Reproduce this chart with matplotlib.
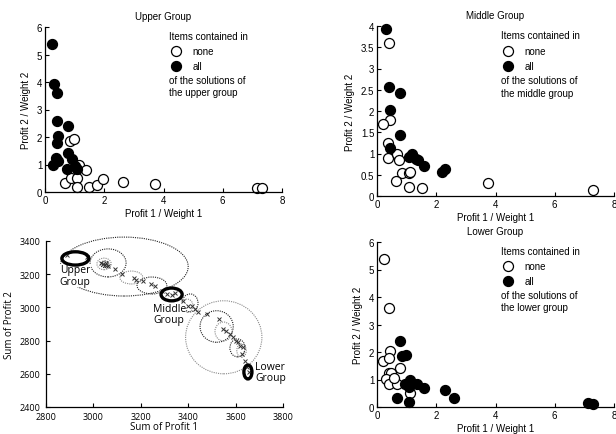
import matplotlib
matplotlib.use("Agg")
import matplotlib.pyplot as plt
from matplotlib.patches import Ellipse

plt.rcParams['font.family'] = ['Liberation Sans', 'DejaVu Sans']
plt.rcParams['font.size'] = 7

# --- ratio plots: Profit 1 / Weight 1 vs Profit 2 / Weight 2 ---
upper_none_x = [0.85, 0.98, 1.16, 1.39, 0.68, 0.88, 1.09, 1.07, 1.50, 1.75, 1.95, 2.63, 3.72, 7.15, 7.32]
upper_none_y = [1.86, 1.92, 0.99, 0.79, 0.34, 0.52, 0.52, 0.19, 0.18, 0.26, 0.46, 0.36, 0.28, 0.16, 0.13]
upper_all_x = [0.23, 0.32, 0.42, 0.39, 0.79, 0.45, 0.42, 0.37, 0.45, 0.28, 0.79, 0.90, 0.73, 1.01, 1.07]
upper_all_y = [5.37, 3.93, 3.59, 2.57, 2.41, 2.04, 1.78, 1.25, 1.13, 0.99, 1.41, 1.19, 0.83, 0.95, 0.83]

middle_none_x = [0.42, 0.43, 0.19, 0.37, 0.36, 0.67, 0.73, 0.84, 1.07, 1.10, 0.65, 1.07, 1.52, 3.73, 7.30]
middle_none_y = [3.60, 1.80, 1.70, 1.25, 0.89, 1.00, 0.84, 0.55, 0.55, 0.56, 0.35, 0.22, 0.20, 0.30, 0.15]
middle_all_x = [0.32, 0.39, 0.76, 0.43, 0.76, 0.43, 1.07, 1.18, 1.33, 1.37, 1.57, 2.19, 2.30]
middle_all_y = [3.92, 2.57, 2.42, 2.03, 1.43, 1.13, 0.92, 0.98, 0.88, 0.84, 0.70, 0.57, 0.63]

lower_none_x = [0.22, 0.40, 0.43, 0.19, 0.42, 0.79, 0.39, 0.47, 0.31, 0.39, 0.67, 1.12, 0.58]
lower_none_y = [5.37, 3.59, 2.04, 1.68, 1.78, 1.41, 1.22, 1.22, 1.01, 0.83, 0.83, 0.52, 1.07]
lower_all_x = [0.79, 0.84, 0.99, 0.96, 1.12, 1.35, 1.57, 1.07, 0.67, 1.09, 2.30, 2.61, 7.13, 7.30]
lower_all_y = [2.41, 1.86, 1.90, 0.83, 0.99, 0.83, 0.68, 0.71, 0.34, 0.19, 0.62, 0.34, 0.16, 0.12]

# --- objective space: Sum of Profit 1 vs Sum of Profit 2 ---
sol_p1 = [2889, 2973, 3030, 3040, 3048, 3055, 3062, 3090, 3120, 3170, 3180, 3210, 3245, 3260,
          3290, 3310, 3330, 3345, 3380, 3400, 3415, 3430, 3440, 3480, 3530, 3545, 3560, 3575,
          3590, 3600, 3610, 3620, 3630, 3625, 3640, 3650, 3655]
sol_p2 = [3316, 3304, 3270, 3262, 3255, 3268, 3250, 3230, 3200, 3180, 3165, 3160, 3140, 3130,
          3100, 3080, 3075, 3085, 3040, 3010, 3010, 2990, 2975, 2960, 2930, 2870, 2860, 2840,
          2820, 2800, 2790, 2770, 2760, 2720, 2680, 2640, 2610]

# dotted ellipses (center p1, center p2, width, height, gray?)
ell_cx = [3130, 3062, 3045, 3048, 3160, 3247, 3408, 3395, 3550, 3520, 3549, 3608, 3625]
ell_cy = [3246, 3268, 3262, 3260, 3180, 3132, 3027, 3010, 2820, 2885, 2855, 2756, 2740]
ell_w = [540, 152, 60, 36, 97, 126, 67, 50, 322, 140, 72, 64, 40]
ell_h = [355, 169, 70, 40, 78, 102, 108, 80, 440, 190, 114, 108, 80]
ell_gray = [False, False, True, False, True, False, False, True, True, False, True, False, True]

# group ellipses (thick)
grp_names = ["Upper\nGroup", "Middle\nGroup", "Lower\nGroup"]
grp_cx = [2924, 3330, 3652]
grp_cy = [3295, 3078, 2611]
grp_w = [114, 89, 34]
grp_h = [80, 77, 84]
grp_label_x = [2858, 3251, 3682]
grp_label_y = [3192, 2960, 2611]

W, H = 616, 435
fig = plt.figure(figsize=(W / 100, H / 100), dpi=100)
SANS2 = ['Open Sans', 'DejaVu Sans']


def style_axes(ax, size=7, xpad=2, ypad=2):
    ax.spines['top'].set_visible(False)
    ax.spines['right'].set_visible(False)
    ax.tick_params(direction='in', length=3, width=0.8, labelsize=size)
    ax.tick_params(axis='x', pad=xpad)
    ax.tick_params(axis='y', pad=ypad)
    for s in ('left', 'bottom'):
        ax.spines[s].set_linewidth(0.9)


def ratio_plot(rect, none_x, none_y, all_x, all_y, title, group, ylim, yticks, yticklabels):
    ax = fig.add_axes(rect)
    ax.plot(none_x, none_y, 'o', ms=7.2, mfc='white', mec='black', mew=0.9, clip_on=False)
    ax.plot(all_x, all_y, 'o', ms=7.2, mfc='black', mec='black', mew=0.9, clip_on=False)
    ax.set_xlim(0, 8)
    ax.set_ylim(*ylim)
    ax.set_xticks([0, 2, 4, 6, 8])
    ax.set_yticks(yticks)
    ax.set_yticklabels(yticklabels)
    ax.set_xlabel('Profit 1 / Weight 1', labelpad=2)
    ax.set_ylabel('Profit 2 / Weight 2', labelpad=4)
    ax.set_title(title, fontsize=7, pad=6)
    style_axes(ax)
    tr = ax.transAxes
    ax.text(0.525, 0.945, 'Items contained in', transform=tr, va='center', ha='left')
    ax.plot([0.553], [0.852], 'o', ms=7.2, mfc='white', mec='black', mew=0.9, transform=tr)
    ax.plot([0.553], [0.765], 'o', ms=7.2, mfc='black', mec='black', mew=0.9, transform=tr)
    ax.text(0.622, 0.852, 'none', transform=tr, va='center', ha='left')
    ax.text(0.622, 0.765, 'all', transform=tr, va='center', ha='left')
    ax.text(0.525, 0.68, 'of the solutions of', transform=tr, va='center', ha='left')
    ax.text(0.525, 0.605, 'the %s group' % group, transform=tr, va='center', ha='left')
    return ax


ratio_plot([45 / W, 1 - 193 / H, 237 / W, 165 / H], upper_none_x, upper_none_y,
           upper_all_x, upper_all_y, 'Upper Group', 'upper', (0, 6),
           [0, 1, 2, 3, 4, 5, 6], ['0', '1', '2', '3', '4', '5', '6'])
ratio_plot([377 / W, 1 - 197 / H, 237 / W, 170 / H], middle_none_x, middle_none_y,
           middle_all_x, middle_all_y, 'Middle Group', 'middle', (0, 4),
           [0, 0.5, 1, 1.5, 2, 2.5, 3, 3.5, 4], ['0', '0.5', '1', '1.5', '2', '2.5', '3', '3.5', '4'])
ratio_plot([377 / W, 1 - 408 / H, 237 / W, 165 / H], lower_none_x, lower_none_y,
           lower_all_x, lower_all_y, 'Lower Group', 'lower', (0, 6),
           [0, 1, 2, 3, 4, 5, 6], ['0', '1', '2', '3', '4', '5', '6'])

# objective space plot
ax = fig.add_axes([46 / W, 1 - 408 / H, 237 / W, 166 / H])
for cx, cy, w, h, g in zip(ell_cx, ell_cy, ell_w, ell_h, ell_gray):
    ax.add_patch(Ellipse((cx, cy), w, h, fill=False, ls=(0, (1, 1)), lw=0.8,
                         ec='#8a8a8a' if g else '#222222', clip_on=False, zorder=1))
ax.plot(sol_p1, sol_p2, 'x', ms=2.2, mew=0.7, color='#333333', zorder=3)
for name, lx, ly in zip(grp_names, grp_label_x, grp_label_y):
    ax.text(lx, ly, name, fontsize=7.5, family=SANS2, va='center', ha='left',
            linespacing=1.05, zorder=2,
            bbox=dict(fc='white', ec='none', pad=0.2))
for cx, cy, w, h in zip(grp_cx, grp_cy, grp_w, grp_h):
    ax.add_patch(Ellipse((cx, cy), w, h, fill=False, lw=2.4, ec='black', zorder=4))
ax.set_xlim(2800, 3800)
ax.set_ylim(2400, 3400)
ax.set_xticks([2800, 3000, 3200, 3400, 3600, 3800])
ax.set_yticks([2400, 2600, 2800, 3000, 3200, 3400])
style_axes(ax, size=6.5, xpad=3.5, ypad=4)
for lab in ax.get_xticklabels() + ax.get_yticklabels():
    lab.set_family(SANS2)
ax.set_xlabel('Sum of Profit 1', fontsize=7, family=SANS2, labelpad=0)
ax.set_ylabel('Sum of Profit 2', fontsize=7, family=SANS2, labelpad=3)

fig.savefig('out.png', dpi=100)
